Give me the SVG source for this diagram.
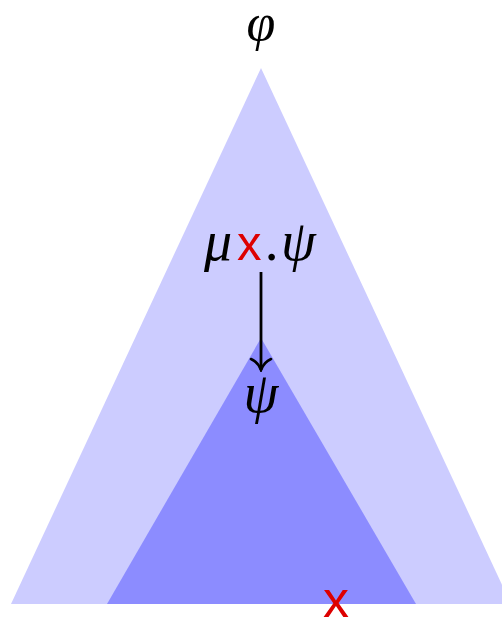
<svg xmlns="http://www.w3.org/2000/svg" width="502" height="619" viewBox="0 0 502 619">
<style>
.math{font-family:"Liberation Serif","DejaVu Serif",serif;font-style:italic;fill:#000}
.var{font-family:"Liberation Sans","DejaVu Sans",sans-serif;fill:#dd0000}
</style>
<defs>
<marker id="arr" viewBox="0 0 24 16" refX="12" refY="14" markerWidth="24" markerHeight="16" markerUnits="userSpaceOnUse" orient="0">
<path d="M2,3 Q9,6 12,14 Q15,6 22,3" fill="none" stroke="#000" stroke-width="2.6" stroke-linecap="round"/>
</marker>
</defs>
<rect width="502" height="619" fill="#fff"/>
<g id="outer"><polygon points="261,68 11,604 511,604" fill="#ccccff"/></g>
<g id="inner"><polygon points="261,338 107,604 416,604" fill="#8c8cff"/></g>
<g id="phi"><text class="math" x="261" y="40" font-size="52" text-anchor="middle">φ</text></g>
<g id="mu"><text y="260"><tspan class="math" x="204" font-size="56">μ</tspan><tspan class="var" font-size="49" x="237">x</tspan><tspan class="math" x="266" font-size="56">.</tspan><tspan class="math" x="281" font-size="56">ψ</tspan></text></g>
<g id="connectors"><line x1="261" y1="272" x2="261" y2="370" stroke="#000" stroke-width="2.8" marker-end="url(#arr)"/></g>
<g id="psi"><text class="math" x="261" y="412" font-size="56" text-anchor="middle">ψ</text></g>
<g id="xbot"><text class="var" x="336" y="617" font-size="52" text-anchor="middle">x</text></g>
</svg>
